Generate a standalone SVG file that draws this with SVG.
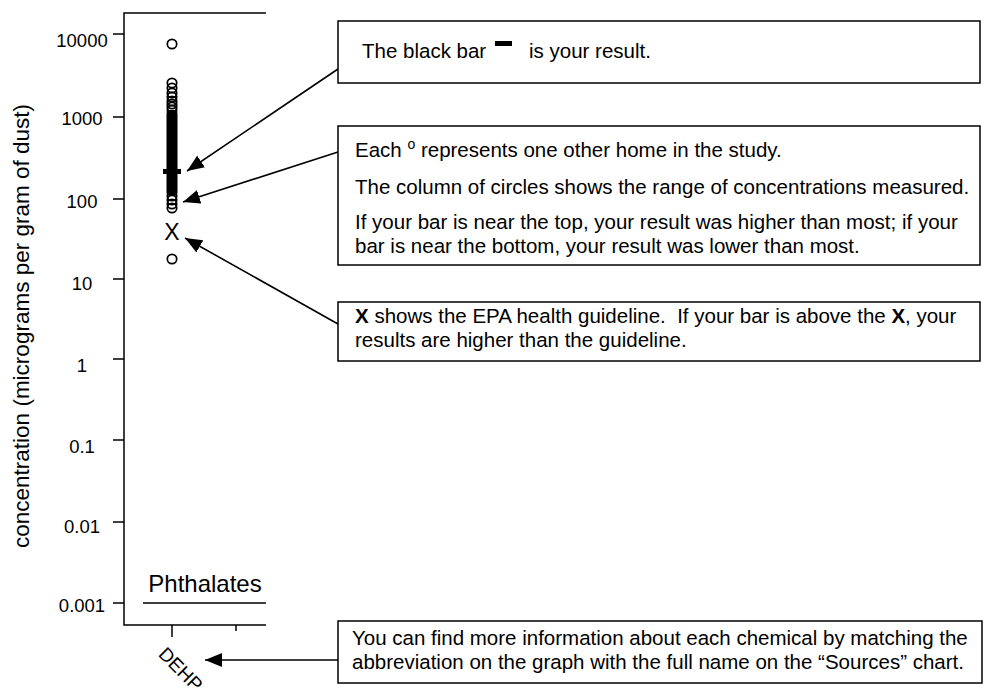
<svg xmlns="http://www.w3.org/2000/svg" width="1000" height="698" viewBox="0 0 1000 698">
<style>
text{font-family:"Liberation Sans",Arial,Helvetica,sans-serif;fill:#000}
.tick{font-size:18.5px;text-anchor:middle}
.box{fill:#fff;stroke:#000;stroke-width:1.5}
.bt{font-size:20.5px}
.ax{stroke:#000;stroke-width:1.5;fill:none}
.pt{fill:none;stroke:#000;stroke-width:1.7}
.conn{stroke:#000;stroke-width:1.6;fill:none;marker-end:url(#ah)}
</style>
<defs>
<marker id="ah" markerUnits="userSpaceOnUse" markerWidth="18" markerHeight="14" refX="17" refY="7" orient="auto">
<path d="M0,0 L17,7 L0,14 Z" fill="#000"/>
</marker>
</defs>
<rect width="1000" height="698" fill="#fff"/>

<g id="chart">
<path class="ax" d="M266,13 H124 V625 H266"/>
<path class="ax" d="M113,34 H124 M113,117 H124 M113,199 H124 M113,279 H124 M113,359 H124 M113,440 H124 M113,522 H124 M113,603 H124"/>
<path class="ax" d="M172,625 V637 M236,625 V631"/>
<text class="tick" x="82" y="47">10000</text>
<text class="tick" x="82" y="125">1000</text>
<text class="tick" x="82" y="208">100</text>
<text class="tick" x="82" y="290">10</text>
<text class="tick" x="82" y="372">1</text>
<text class="tick" x="82" y="453">0.1</text>
<text class="tick" x="82" y="533">0.01</text>
<text class="tick" x="82" y="612">0.001</text>
<text transform="translate(29,326) rotate(-90)" text-anchor="middle" font-size="22.5">concentration (micrograms per gram of dust)</text>
<text x="205" y="592" text-anchor="middle" font-size="24">Phthalates</text>
<path class="ax" d="M143,603 H266"/>
<text transform="translate(181,669) rotate(45)" x="0" y="7" text-anchor="middle" font-size="19">DEHP</text>
</g>

<g id="data">
<circle class="pt" cx="172" cy="44" r="4.7"/>
<circle class="pt" cx="172" cy="83" r="4.7"/>
<circle class="pt" cx="172" cy="88" r="4.7"/>
<circle class="pt" cx="172" cy="93" r="4.7"/>
<circle class="pt" cx="172" cy="97" r="4.7"/>
<circle class="pt" cx="172" cy="101" r="4.7"/>
<circle class="pt" cx="172" cy="104" r="4.7"/>
<circle class="pt" cx="172" cy="107" r="4.7"/>
<circle class="pt" cx="172" cy="110" r="4.7"/>
<rect x="166.5" y="110" width="11" height="86" rx="4" fill="#000"/>
<circle class="pt" cx="172" cy="196" r="4.7"/>
<circle class="pt" cx="172" cy="200" r="4.7"/>
<circle class="pt" cx="172" cy="204" r="4.7"/>
<circle class="pt" cx="172" cy="208" r="4.7"/>
<rect x="163" y="169" width="18" height="5" fill="#000"/>
<text x="172" y="240" text-anchor="middle" font-size="23">X</text>
<circle class="pt" cx="172" cy="259" r="4.7"/>
</g>

<g id="connectors">
<line class="conn" x1="338" y1="69" x2="187" y2="171"/>
<line class="conn" x1="338" y1="152" x2="183" y2="202"/>
<line class="conn" x1="338" y1="324" x2="185" y2="238"/>
<line class="conn" x1="338" y1="660" x2="205" y2="660"/>
</g>

<g id="box-result">
<rect class="box" x="338" y="21" width="642" height="62"/>
<text class="bt" x="362" y="58">The black bar</text>
<rect x="495" y="41" width="17" height="5" fill="#000"/>
<text class="bt" x="529" y="58">is your result.</text>
</g>

<g id="box-homes">
<rect class="box" x="338" y="126" width="642" height="139"/>
<text class="bt" x="355" y="157">Each <tspan font-size="14" dy="-8">o</tspan><tspan dy="8"> represents one other home in the study.</tspan></text>
<text class="bt" x="355" y="194">The column of circles shows the range of concentrations measured.</text>
<text class="bt" x="355" y="229">If your bar is near the top, your result was higher than most; if your</text>
<text class="bt" x="355" y="253">bar is near the bottom, your result was lower than most.</text>
</g>

<g id="box-epa">
<rect class="box" x="338" y="302" width="642" height="59"/>
<text class="bt" x="355" y="323"><tspan font-weight="bold">X</tspan> shows the EPA health guideline.&#160; If your bar is above the <tspan font-weight="bold">X</tspan>, your</text>
<text class="bt" x="355" y="347">results are higher than the guideline.</text>
</g>

<g id="box-sources">
<rect class="box" x="338" y="621" width="644" height="62"/>
<text class="bt" x="352" y="645">You can find more information about each chemical by matching the</text>
<text class="bt" x="352" y="669">abbreviation on the graph with the full name on the “Sources” chart.</text>
</g>
</svg>
